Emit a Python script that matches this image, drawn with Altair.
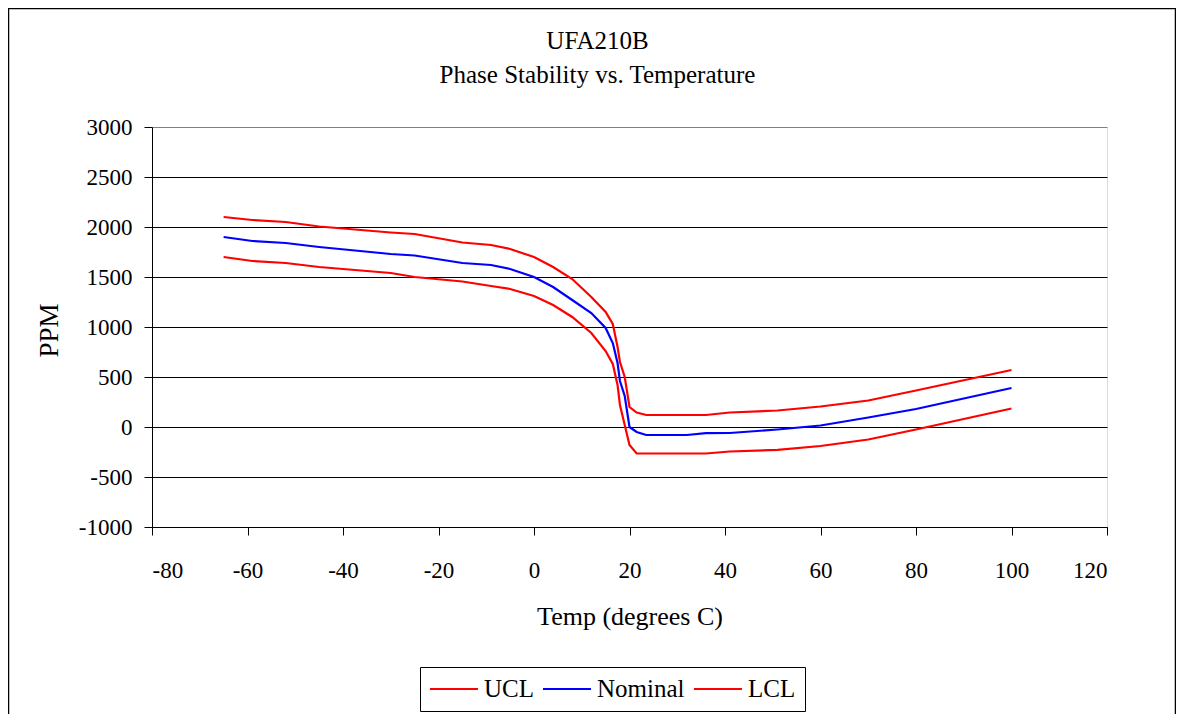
import altair as alt
import pandas as pd

temps = [-65, -59, -52, -45, -30, -25, -15, -9, -5, 0, 4, 8, 12, 15, 16.5, 17.5, 18, 19, 20, 21.5, 23.5, 32, 36, 41, 51, 60, 70, 80, 100]
ucl = [2100, 2070, 2050, 2005, 1945, 1930, 1845, 1820, 1780, 1700, 1600, 1480, 1300, 1150, 1030, 800, 650, 500, 200, 145, 120, 120, 120, 145, 165, 205, 265, 365, 570]
nominal = [1900, 1860, 1840, 1800, 1730, 1715, 1640, 1620, 1580, 1500, 1400, 1270, 1140, 990, 840, 640, 460, 310, 0, -50, -80, -80, -62, -60, -25, 15, 95, 180, 390]
lcl = [1700, 1660, 1640, 1600, 1540, 1500, 1455, 1410, 1380, 1310, 1220, 1100, 940, 760, 630, 420, 220, 20, -180, -265, -265, -265, -265, -245, -228, -190, -125, -25, 185]

series_names = ["UCL", "Nominal", "LCL"]
series_colors = ["#FF0000", "#0000FF", "#FF0000"]
x_ticks = [-80, -60, -40, -20, 0, 20, 40, 60, 80, 100, 120]
y_ticks = [-1000, -500, 0, 500, 1000, 1500, 2000, 2500, 3000]

rows = []
for name, vals in zip(series_names, [ucl, nominal, lcl]):
    for t, v in zip(temps, vals):
        rows.append({"Temp": t, "PPM": v, "Series": name})
df = pd.DataFrame(rows)

FONT = "Liberation Serif"
W, H = 955, 400

lines = alt.Chart(df).mark_line(strokeWidth=2.2, clip=True).encode(
    x=alt.X("Temp:Q",
            scale=alt.Scale(domain=[-80, 120], nice=False, zero=False),
            axis=alt.Axis(values=x_ticks, title="Temp (degrees C)", grid=False,
                          labelExpr="'' + datum.value",
                          tickSize=8, tickColor="black", domainColor="black",
                          labelFontSize=23, labelFont=FONT, labelColor="black",
                          labelBaseline="alphabetic", labelPadding=42,
                          titleFontSize=26, titleFont=FONT, titleFontWeight="normal",
                          titleColor="black", titleBaseline="alphabetic",
                          titleX=W / 2, titleY=97)),
    y=alt.Y("PPM:Q",
            scale=alt.Scale(domain=[-1000, 3000], nice=False, zero=False),
            axis=alt.Axis(values=y_ticks, title="PPM", grid=True,
                          gridColor={"expr": "datum.value == 3000 ? '#808080' : 'black'"},
                          labelExpr="'' + datum.value",
                          gridWidth=1, tickSize=8, tickColor="black", domainColor="black",
                          labelFontSize=23, labelFont=FONT, labelColor="black",
                          labelPadding=12, labelBaseline="middle",
                          titleFontSize=27, titleFont=FONT, titleFontWeight="normal",
                          titleColor="black", titleBaseline="alphabetic",
                          titleAngle=270, titleX=-95, titleY=H / 2 + 3)),
    color=alt.Color("Series:N",
                    scale=alt.Scale(domain=series_names, range=series_colors),
                    sort=series_names,
                    legend=alt.Legend(title=None, orient="none", legendX=268, legendY=540,
                                      direction="horizontal", symbolType="M-1,0H3",
                                      symbolSize=576, symbolStrokeWidth=2,
                                      labelFont=FONT, labelFontSize=25, labelColor="black",
                                      labelOffset=29, columnPadding=5, padding=9,
                                      strokeColor="black", symbolOffset=0)),
    order=alt.Order("Temp:Q"),
)

border = alt.Chart(pd.DataFrame({"a": [0]})).mark_rect(
    fillOpacity=0, stroke="black", strokeWidth=1.5, clip=False
).encode(
    x=alt.value(-143.5), x2=alt.value(1023.5), y=alt.value(-118.5), y2=alt.value(720)
)

chart = alt.layer(border, lines).properties(
    width=W, height=H,
    title=alt.Title(["UFA210B", "Phase Stability vs. Temperature"],
                    font=FONT, fontSize=25, fontWeight="normal", color="black",
                    lineHeight=34, anchor="middle", dx=-32, offset=-80),
    autosize=alt.AutoSizeParams(type="none"),
    padding={"left": 144, "top": 119, "right": 69, "bottom": 187},
).configure_view(stroke="#808080", strokeWidth=1).configure(background="white")

chart.save("out.html", embed_options={"renderer": "svg", "actions": False})
